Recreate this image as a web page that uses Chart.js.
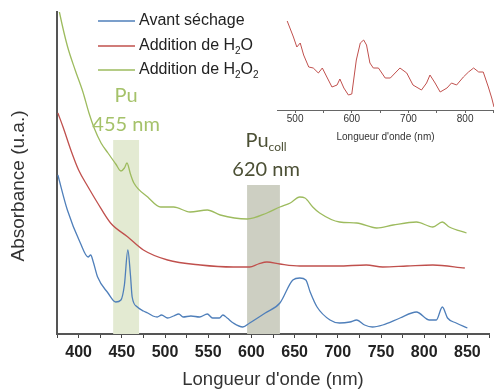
<!DOCTYPE html>
<html>
<head>
<meta charset="utf-8">
<script src="https://cdn.jsdelivr.net/npm/chart.js@4.4.1/dist/chart.umd.min.js"></script>
<style>
  html, body { margin: 0; padding: 0; background: #fff; }
  #wrap { position: relative; width: 494px; height: 389px; }
  #main { position: absolute; left: 0; top: 0; }
  #inset { position: absolute; left: 277px; top: 0; }
</style>
</head>
<body>
<div id="wrap">
  <canvas id="main" width="494" height="389"></canvas>
  <canvas id="inset" width="217" height="145"></canvas>
</div>
<script>
// series labels (subscripts as unicode)
const SERIES_LABELS = ["Avant séchage", "Addition de H₂O", "Addition de H₂O₂"];

// Avant séchage
const BLUE_WL = [376, 387, 402, 411, 414, 417, 422, 434, 443, 449, 453, 457, 460, 462, 468, 475, 480, 486, 491, 496,
  503, 510, 516, 521, 530, 540, 549, 555, 563, 567, 572, 579, 590, 598, 616, 633, 648, 656, 663, 668,
  676, 691, 702, 714, 722, 731, 740, 752, 772, 791, 806, 814, 821, 827, 837, 850];
const BLUE_ABS = [1.59, 1.24, 0.91, 0.77, 0.79, 0.72, 0.57, 0.41, 0.32, 0.34, 0.49, 0.84, 0.59, 0.37, 0.27, 0.23, 0.21, 0.18, 0.17, 0.19,
  0.16, 0.18, 0.20, 0.17, 0.18, 0.17, 0.20, 0.16, 0.16, 0.19, 0.16, 0.11, 0.07, 0.11, 0.21, 0.31, 0.54, 0.56, 0.54, 0.42,
  0.27, 0.14, 0.11, 0.12, 0.14, 0.09, 0.07, 0.09, 0.16, 0.22, 0.14, 0.14, 0.27, 0.16, 0.11, 0.06];

// Addition de H2O
const RED_WL = [376, 382, 391, 400, 411, 422, 437, 457, 475, 503, 541, 579, 598, 608, 618, 633, 656, 700, 733, 752, 780, 810, 847];
const RED_ABS = [2.21, 2.07, 1.84, 1.64, 1.47, 1.31, 1.11, 0.97, 0.84, 0.74, 0.69, 0.67, 0.67, 0.70, 0.72, 0.70, 0.68, 0.68, 0.69, 0.67, 0.68, 0.69, 0.66];

// Addition de H2O2
const GREEN_WL = [376, 378, 387, 396, 405, 412, 418, 426, 434, 443, 449, 453, 456, 460, 464, 480, 495, 510, 529, 549,
  564, 595, 618, 633, 645, 656, 662, 671, 679, 702, 722, 745, 764, 791, 810, 821, 829, 849];
const GREEN_ABS = [3.30, 3.21, 2.88, 2.64, 2.42, 2.21, 2.06, 1.91, 1.81, 1.70, 1.63, 1.66, 1.71, 1.60, 1.51, 1.37, 1.27, 1.27, 1.22, 1.24,
  1.19, 1.15, 1.21, 1.27, 1.31, 1.37, 1.36, 1.27, 1.21, 1.12, 1.11, 1.06, 1.09, 1.12, 1.07, 1.12, 1.07, 1.01];

// inset (zoom on H2O curve)
const INSET_WL = [486, 497, 503, 509, 515, 524, 532, 541, 548, 556, 565, 574, 579, 586, 594, 600, 608, 615, 621, 626,
  632, 638, 647, 659, 668, 685, 697, 708, 723, 732, 738, 747, 756, 768, 776, 785, 797, 806, 815, 824, 832, 841, 847, 851];
const INSET_ABS = [0.89, 0.73, 0.63, 0.67, 0.55, 0.43, 0.42, 0.37, 0.42, 0.33, 0.23, 0.25, 0.31, 0.22, 0.15, 0.16, 0.50, 0.67, 0.70, 0.65,
  0.47, 0.42, 0.42, 0.32, 0.32, 0.42, 0.37, 0.25, 0.20, 0.27, 0.35, 0.27, 0.18, 0.22, 0.27, 0.25, 0.33, 0.38, 0.42, 0.38, 0.38, 0.23, 0.12, 0.03];
const INSET_TICKS = [500, 550, 600, 650, 700, 750, 800, 850];

// highlighted bands + their labels
const BAND_START = [440, 595];
const BAND_END = [470, 633];
const BAND_TOP = [1.94, 1.49];
const BAND_NAME = ["Pu", "Pu_{coll}"];
const BAND_PEAK = ["455 nm", "620 nm"];
const BAND_LABEL_X = [455, 617];

const COLORS = { blue: "#4f7fba", red: "#c0504d", green: "#9dbb5e" };
const BAND_FILL = ["#e3ead2", "#cdcfc2"];
const BAND_TEXT = ["#a5c26a", "#4c5035"];

const toPoints = (xs, ys) => xs.map((x, i) => ({ x: x, y: ys[i] }));

// split "H₂O" / "Pu_{coll}" into normal and subscript runs
function richParts(text) {
  const parts = [];
  let i = 0;
  const push = (t, sub) => {
    const last = parts[parts.length - 1];
    if (last && last.sub === sub) last.t += t; else parts.push({ t: t, sub: sub });
  };
  while (i < text.length) {
    const c = text[i];
    if (c === "_" && text[i + 1] === "{") {
      const end = text.indexOf("}", i);
      push(text.slice(i + 2, end), true);
      i = end + 1;
    } else if (c >= "\u2080" && c <= "\u2089") {
      push(String(c.charCodeAt(0) - 0x2080), true);
      i++;
    } else {
      push(c, false);
      i++;
    }
  }
  return parts;
}

function drawRich(ctx, text, x, y, size, family, align) {
  const parts = richParts(text);
  const subSize = Math.round(size * 0.62);
  let total = 0;
  parts.forEach(p => {
    ctx.font = (p.sub ? subSize : size) + "px " + family;
    p.w = ctx.measureText(p.t).width;
    total += p.w;
  });
  let cx = align === "center" ? x - total / 2 : x;
  ctx.textAlign = "left";
  ctx.textBaseline = "middle";
  parts.forEach(p => {
    ctx.font = (p.sub ? subSize : size) + "px " + family;
    ctx.fillText(p.t, cx, p.sub ? y + size * 0.32 : y);
    cx += p.w;
  });
}

const bandsPlugin = {
  id: "bands",
  beforeDatasetsDraw(chart) {
    const { ctx, scales: { x, y }, chartArea } = chart;
    ctx.save();
    BAND_START.forEach((s, i) => {
      const x0 = x.getPixelForValue(s);
      const x1 = x.getPixelForValue(BAND_END[i]);
      const yt = y.getPixelForValue(BAND_TOP[i]);
      ctx.fillStyle = BAND_FILL[i];
      ctx.fillRect(x0, yt, x1 - x0, chartArea.bottom - yt);
    });
    ctx.restore();
  },
  afterDraw(chart) {
    const { ctx, scales: { x, y } } = chart;
    ctx.save();
    BAND_START.forEach((s, i) => {
      const cx = x.getPixelForValue(BAND_LABEL_X[i]);
      const yt = y.getPixelForValue(BAND_TOP[i]);
      ctx.fillStyle = BAND_TEXT[i];
      drawRich(ctx, BAND_NAME[i], cx, yt - 44, 20, "Lato, 'Open Sans', sans-serif", "center");
      drawRich(ctx, BAND_PEAK[i], cx, yt - 15, 20, "Lato, 'Open Sans', sans-serif", "center");
    });
    ctx.restore();
  }
};

const extrasPlugin = {
  id: "extras",
  afterDraw(chart) {
    const ctx = chart.ctx;
    ctx.save();
    // legend with subscripts
    const rows = [21, 46, 70];
    chart.data.datasets.forEach((ds, i) => {
      ctx.strokeStyle = ds.borderColor;
      ctx.lineWidth = 1.3;
      ctx.beginPath();
      ctx.moveTo(98, rows[i]);
      ctx.lineTo(135, rows[i]);
      ctx.stroke();
      ctx.fillStyle = "#222";
      drawRich(ctx, ds.label, 139, rows[i], 16, "'Liberation Sans', Arial, sans-serif", "left");
    });
    // y axis title
    ctx.translate(19, 186);
    ctx.rotate(-Math.PI / 2);
    ctx.fillStyle = "#333";
    ctx.font = "19px 'Liberation Sans', Arial, sans-serif";
    ctx.textAlign = "center";
    ctx.textBaseline = "middle";
    ctx.fillText("Absorbance (u.a.)", 0, 0);
    ctx.restore();
  }
};

const lineDs = (label, xs, ys, color) => ({
  label: label,
  data: toPoints(xs, ys),
  borderColor: color,
  borderWidth: 1.3,
  pointRadius: 0,
  cubicInterpolationMode: "monotone",
  fill: false
});

new Chart(document.getElementById("main"), {
  type: "line",
  data: {
    datasets: [
      lineDs(SERIES_LABELS[0], BLUE_WL, BLUE_ABS, COLORS.blue),
      lineDs(SERIES_LABELS[1], RED_WL, RED_ABS, COLORS.red),
      lineDs(SERIES_LABELS[2], GREEN_WL, GREEN_ABS, COLORS.green)
    ]
  },
  options: {
    responsive: false,
    animation: false,
    layout: { padding: { top: 12, right: 3, left: 0, bottom: 0 } },
    plugins: { legend: { display: false }, tooltip: { enabled: false } },
    scales: {
      x: {
        type: "linear",
        min: 375,
        max: 875,
        ticks: {
          stepSize: 25,
          autoSkip: false,
          maxRotation: 0,
          padding: 5,
          color: "#222",
          font: { family: "'Liberation Sans', Arial, sans-serif", size: 16, weight: "bold" },
          callback: v => (v % 50 === 0 ? v : "")
        },
        grid: { drawOnChartArea: false, drawTicks: true, tickLength: 4, color: "#444", lineWidth: 1 },
        border: { color: "#555", width: 2 },
        title: {
          display: true,
          text: "Longueur d'onde (nm)",
          color: "#333",
          font: { family: "'Liberation Sans', Arial, sans-serif", size: 18.5, lineHeight: 1 },
          padding: { top: 0, bottom: 0 }
        },
        afterFit: s => { s.height = 55; }
      },
      y: {
        min: 0,
        max: 3.22,
        ticks: { display: false },
        grid: { drawOnChartArea: false, drawTicks: false },
        border: { color: "#555", width: 2 },
        afterFit: s => { s.width = 57; }
      }
    }
  },
  plugins: [bandsPlugin, extrasPlugin]
});

new Chart(document.getElementById("inset"), {
  type: "line",
  data: {
    datasets: [{
      label: SERIES_LABELS[1],
      data: toPoints(INSET_WL, INSET_ABS),
      borderColor: COLORS.red,
      borderWidth: 1,
      pointRadius: 0,
      tension: 0
    }]
  },
  options: {
    responsive: false,
    animation: false,
    layout: { padding: 0 },
    plugins: { legend: { display: false }, tooltip: { enabled: false } },
    scales: {
      x: {
        type: "linear",
        min: 468,
        max: 851,
        afterBuildTicks: s => { s.ticks = INSET_TICKS.map(v => ({ value: v })); },
        ticks: {
          autoSkip: false,
          maxRotation: 0,
          padding: 0,
          color: "#333",
          font: { family: "'Liberation Sans', Arial, sans-serif", size: 10 },
          callback: v => (v % 100 === 0 ? v : "")
        },
        grid: { drawOnChartArea: false, drawTicks: true, tickLength: 3, color: "#666" },
        border: { color: "#666", width: 1 },
        title: {
          display: true,
          text: "Longueur d'onde (nm)",
          color: "#333",
          font: { family: "'Liberation Sans', Arial, sans-serif", size: 10, lineHeight: 1.2 },
          padding: { top: 0, bottom: 2 }
        },
        afterFit: s => { s.height = 35; }
      },
      y: { display: false, min: 0, max: 1.10 }
    }
  }
});
</script>
</body>
</html>
